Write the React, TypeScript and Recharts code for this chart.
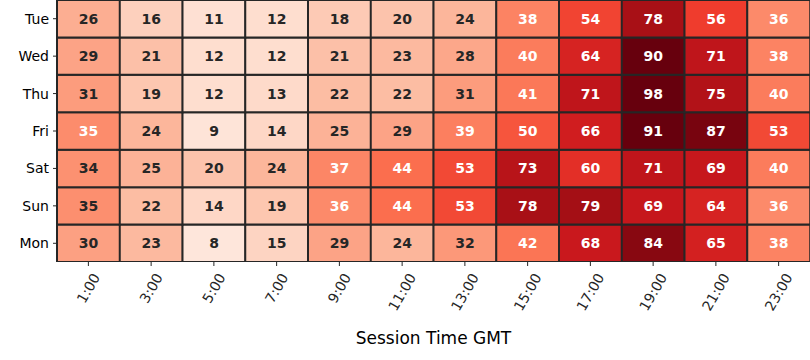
import React from 'react';
import { BarChart, Bar, XAxis, YAxis, Cell, LabelList } from 'recharts';

const TIMES = ['1:00', '3:00', '5:00', '7:00', '9:00', '11:00', '13:00', '15:00', '17:00', '19:00', '21:00', '23:00'];
const DAYS = ['Tue', 'Wed', 'Thu', 'Fri', 'Sat', 'Sun', 'Mon'];

const tue = [26, 16, 11, 12, 18, 20, 24, 38, 54, 78, 56, 36];
const wed = [29, 21, 12, 12, 21, 23, 28, 40, 64, 90, 71, 38];
const thu = [31, 19, 12, 13, 22, 22, 31, 41, 71, 98, 75, 40];
const fri = [35.4, 24, 9, 14, 25, 29, 39, 50, 66, 91, 87, 53];
const sat = [34, 25, 20, 24, 37, 44, 53, 73, 60, 71, 69, 40];
const sun = [34.6, 22, 14, 19, 36, 44, 53, 78, 79, 69, 64, 36];
const mon = [30, 23, 8, 15, 29, 24, 32, 42, 68, 84, 65, 38];

const VALUES: Record<string, number[]> = { Tue: tue, Wed: wed, Thu: thu, Fri: fri, Sat: sat, Sun: sun, Mon: mon };

const VMIN = 0;
const VMAX = 90;
const TEXT_THRESHOLD = 35;

const REDS = [
  [255, 245, 240], [254, 224, 210], [252, 187, 161], [252, 146, 114], [251, 106, 74],
  [239, 59, 44], [203, 24, 29], [165, 15, 21], [103, 0, 13],
];

function redColor(v: number): string {
  let t = (v - VMIN) / (VMAX - VMIN);
  t = Math.max(0, Math.min(1, t));
  const pos = t * (REDS.length - 1);
  const i = Math.min(REDS.length - 2, Math.floor(pos));
  const f = pos - i;
  const c = REDS[i].map((a, k) => Math.round(a + (REDS[i + 1][k] - a) * f));
  return `rgb(${c[0]},${c[1]},${c[2]})`;
}

const BAR_ORDER = [...DAYS].reverse();

const chartData = TIMES.map((time) => {
  const row: Record<string, string | number> = { time };
  DAYS.forEach((d) => { row[d] = 1; });
  return row;
});

const DARK = '#262626';
const FONT = "'DejaVu Sans', sans-serif";

function XTick(props: any) {
  const { x, y, payload } = props;
  const label = String(payload.value);
  const fs = 14;
  let w = 0;
  for (const ch of label) w += ch === ':' ? 0.337 * fs : 0.636 * fs;
  const vext = w * Math.sin(Math.PI / 3) + fs * Math.cos(Math.PI / 3);
  const cy = y + 5 + vext / 2;
  return (
    <text
      x={0}
      y={0}
      textAnchor="middle"
      dominantBaseline="central"
      transform={`translate(${x},${cy}) rotate(-60)`}
      style={{ fontSize: fs, fontFamily: FONT, fill: DARK }}
    >
      {label}
    </text>
  );
}

function makeLabel(day: string) {
  return (props: any) => {
    const { x, y, width, height, index } = props;
    const v = VALUES[day][index];
    const color = v > TEXT_THRESHOLD ? '#ffffff' : DARK;
    return (
      <text
        x={x + width / 2}
        y={y + height / 2}
        textAnchor="middle"
        dominantBaseline="central"
        style={{ fontSize: 14, fontWeight: 'bold', fontFamily: FONT, fill: color }}
      >
        {Math.round(v)}
      </text>
    );
  };
}

export default function App() {
  return (
    <div style={{ position: 'absolute', left: 0, top: 0, width: 810, height: 360, background: '#fff', fontFamily: FONT }}>
      <BarChart
        width={810}
        height={360}
        data={chartData}
        margin={{ top: 0, right: 0, bottom: 0, left: 0 }}
        barCategoryGap={0}
        barGap={0}
        style={{ fontFamily: FONT }}
      >
        <XAxis
          dataKey="time"
          type="category"
          height={98}
          axisLine={false}
          tickLine={{ stroke: DARK }}
          tickSize={4}
          tickMargin={0}
          interval={0}
          tick={<XTick />}
          label={(p: any) => {
            const vb = p.viewBox;
            return (
              <text
                x={vb.x + vb.width / 2}
                y={vb.y + 82}
                textAnchor="middle"
                style={{ fontSize: 17, fontFamily: FONT, fill: '#000' }}
              >
                Session Time GMT
              </text>
            );
          }}
        />
        <YAxis
          type="number"
          domain={[0, 7]}
          ticks={[0.5, 1.5, 2.5, 3.5, 4.5, 5.5, 6.5]}
          tickFormatter={(v: number) => DAYS[6 - Math.floor(v)]}
          width={57}
          axisLine={false}
          tickLine={{ stroke: DARK }}
          tickSize={4}
          tickMargin={4}
          tick={{ fontSize: 14, fill: '#000', fontFamily: FONT }}
          allowDataOverflow
        />
        {BAR_ORDER.map((day) => (
          <Bar
            key={day}
            dataKey={day}
            stackId="a"
            isAnimationActive={false}
            stroke={DARK}
            strokeWidth={2}
          >
            {VALUES[day].map((v, i) => (
              <Cell key={i} fill={redColor(v)} />
            ))}
            <LabelList dataKey={day} content={makeLabel(day)} />
          </Bar>
        ))}
      </BarChart>
    </div>
  );
}
